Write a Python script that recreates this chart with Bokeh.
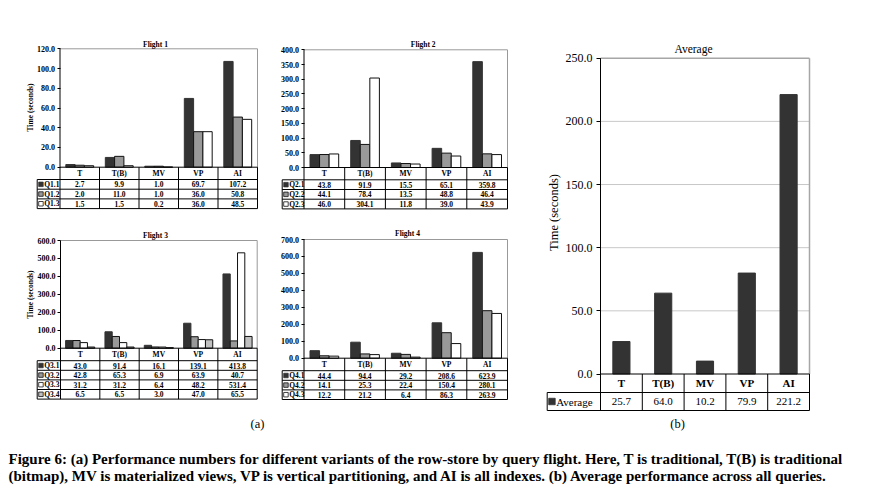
import math
from bokeh.plotting import figure
from bokeh.models import Range1d, LinearAxis, FixedTicker, NumeralTickFormatter
from bokeh.layouts import row, column
from bokeh.embed import file_html
from bokeh.resources import INLINE
from bokeh.core.properties import value

SERIF = "Liberation Serif"

# ---------------- data ----------------
categories = ["T", "T(B)", "MV", "VP", "AI"]

f1_names = ["Q1.1", "Q1.2", "Q1.3"]
f1_q11 = [2.7, 9.9, 1.0, 69.7, 107.2]
f1_q12 = [2.0, 11.0, 1.0, 36.0, 50.8]
f1_q13 = [1.5, 1.5, 0.2, 36.0, 48.5]
f1_ticks = [0, 20, 40, 60, 80, 100, 120]

f2_names = ["Q2.1", "Q2.2", "Q2.3"]
f2_q21 = [43.8, 91.9, 15.5, 65.1, 359.8]
f2_q22 = [44.1, 78.4, 13.5, 48.8, 46.4]
f2_q23 = [46.0, 304.1, 11.8, 39.0, 43.9]
f2_ticks = [0, 50, 100, 150, 200, 250, 300, 350, 400]

f3_names = ["Q3.1", "Q3.2", "Q3.3", "Q3.4"]
f3_q31 = [43.0, 91.4, 16.1, 139.1, 413.8]
f3_q32 = [42.8, 65.3, 6.9, 63.9, 40.7]
f3_q33 = [31.2, 31.2, 6.4, 48.2, 531.4]
f3_q34 = [6.5, 6.5, 3.0, 47.0, 65.5]
f3_ticks = [0, 100, 200, 300, 400, 500, 600]

f4_names = ["Q4.1", "Q4.2", "Q4.3"]
f4_q41 = [44.4, 94.4, 29.2, 208.6, 623.9]
f4_q42 = [14.1, 25.3, 22.4, 150.4, 280.1]
f4_q43 = [12.2, 21.2, 6.4, 86.3, 263.9]
f4_ticks = [0, 100, 200, 300, 400, 500, 600, 700]

avg_names = ["Average"]
avg_values = [25.7, 64.0, 10.2, 79.9, 221.2]
avg_ticks = [0, 50, 100, 150, 200, 250]

caption_lines = [
    "Figure 6: (a) Performance numbers for different variants of the row-store by query flight. Here, T is traditional, T(B) is traditional",
    "(bitmap), MV is materialized views, VP is vertical partitioning, and AI is all indexes. (b) Average performance across all queries.",
]

FILLS = ["#333333", "#999999", "#ffffff", "#c0c0c0"]
LINES = ["#333333", "#111111", "#111111", "#111111"]


def no_grid(p):
    p.grid.grid_line_color = None
    p.grid.visible = False


def make_panel(X0, Y0, W, H, xa, xb, py0, py1, ymax, ticks, names, series,
               bw, hh, rh, tl, title, tpos, ylab_pos, fs, tick_fs, title_fs,
               ylab_fs, bold, tick_out, standoff, sq, frame_color, frame_w,
               grid=False, extra=None):
    u = (xb - xa) / 5.0
    v = (py0 - py1) / ymax
    p = figure(width=W, height=H, output_backend="svg", toolbar_location=None,
               x_range=Range1d((X0 - xa) / u, (X0 + W - xa) / u),
               y_range=Range1d((py0 - (Y0 + H)) / v, (py0 - Y0) / v),
               x_axis_location=None, y_axis_location=None, min_border=0,
               title=None)
    no_grid(p)
    p.outline_line_color = None
    p.background_fill_color = "white"
    p.border_fill_color = "white"
    p.extra_x_ranges = {"px": Range1d(X0, X0 + W)}
    p.extra_y_ranges = {"px": Range1d(Y0 + H, Y0)}
    style = "bold" if bold else "normal"
    font = value(SERIF)
    PX = dict(x_range_name="px", y_range_name="px")

    ax = LinearAxis(fixed_location=0, ticker=FixedTicker(ticks=ticks),
                    formatter=NumeralTickFormatter(format="0.0"))
    ax.axis_line_color = None
    ax.major_tick_in = 0
    ax.major_tick_out = tick_out
    ax.major_tick_line_color = "black"
    ax.minor_tick_line_color = None
    ax.major_label_standoff = standoff
    ax.major_label_text_font = SERIF
    ax.major_label_text_font_size = tick_fs
    ax.major_label_text_font_style = style
    ax.major_label_text_color = "black"
    p.add_layout(ax, "left")

    # grid lines
    if grid:
        gl = ticks[1:-1]
        p.segment(x0=[0] * len(gl), y0=gl, x1=[5] * len(gl), y1=gl,
                  line_color="#c8c8c8", line_width=1)

    # plot frame (top & right)
    p.segment(x0=[0, 5], y0=[ymax, 0], x1=[5, 5], y1=[ymax, ymax],
              line_color=frame_color, line_width=frame_w)

    # bars
    n = len(series)
    for j, vals in enumerate(series):
        xs = [i + 0.5 + (j - (n - 1) / 2.0) * bw for i in range(len(categories))]
        p.vbar(x=xs, top=vals, bottom=0, width=bw, fill_color=FILLS[j],
               line_color=LINES[j], line_width=1)

    # table lines
    bottom = py0 + hh + n * rh
    cx = [xa + i * u for i in range(6)]
    hx0 = [xa, tl] + [tl] * n
    hy = [py0, py0 + hh] + [py0 + hh + (k + 1) * rh for k in range(n)]
    hx1 = [xb] * len(hx0)
    p.segment(x0=hx0, y0=hy, x1=hx1, y1=hy, line_color="black", line_width=1, **PX)
    vx = [tl, xa] + cx[1:]
    vy0 = [py0 + hh, py1] + [py0] * 5
    vy1 = [bottom] * len(vx)
    p.segment(x0=vx, y0=vy0, x1=vx, y1=vy1, line_color="black", line_width=1, **PX)

    # header
    centers = [xa + (i + 0.5) * u for i in range(5)]
    p.text(x=centers, y=[py0 + hh / 2.0] * 5, text=categories, text_font=font,
           text_font_size=fs, text_font_style="bold", text_align="center",
           text_baseline="middle", text_color="black", **PX)

    # rows
    for j, vals in enumerate(series):
        yc = py0 + hh + (j + 0.5) * rh
        p.rect(x=[tl + 1.5 + sq / 2.0], y=[yc], width=sq, height=sq,
               fill_color=FILLS[j], line_color=LINES[j], line_width=0.8, **PX)
        p.text(x=[tl + sq + 2.5], y=[yc], text=[names[j]], text_font=font,
               text_font_size=fs, text_font_style=style, text_align="left",
               text_baseline="middle", text_color="black", **PX)
        p.text(x=centers, y=[yc] * 5, text=["%.1f" % val for val in vals],
               text_font=font, text_font_size=fs, text_font_style=style,
               text_align="center", text_baseline="middle", text_color="black", **PX)

    # title
    p.text(x=[tpos[0]], y=[tpos[1]], text=[title], text_font=font,
           text_font_size=title_fs, text_font_style=style, text_align="center",
           text_baseline="middle", text_color="black", **PX)
    if ylab_pos is not None:
        p.text(x=[ylab_pos[0]], y=[ylab_pos[1]], text=["Time (seconds)"],
               text_font=font, text_font_size=ylab_fs, text_font_style=style,
               text_align="center", text_baseline="middle", angle=math.pi / 2,
               text_color="black", **PX)
    if extra is not None:
        p.text(x=[extra[0]], y=[extra[1]], text=[extra[2]], text_font=font,
               text_font_size="12.5px", text_align="center", text_baseline="middle",
               text_color="black", **PX)
    return p


common_small = dict(fs="7.5px", tick_fs="8px", title_fs="7.5px", ylab_fs="7.5px",
                    bold=True, tick_out=3, standoff=2, sq=4.5,
                    frame_color="#999999", frame_w=1)

f1 = make_panel(0, 0, 270, 218, 59.5, 257, 166.7, 48.3, 120, f1_ticks, f1_names,
                [f1_q11, f1_q12, f1_q13], 0.235, 12.3, 9.7, 36.7, "Flight 1",
                (155, 44), (30, 107), **common_small)
f2 = make_panel(270, 0, 255, 218, 303.5, 507, 167, 49.3, 400, f2_ticks, f2_names,
                [f2_q21, f2_q22, f2_q23], 0.235, 12.3, 9.7, 281.7, "Flight 2",
                (422.7, 44), None, **common_small)
f3 = make_panel(0, 218, 270, 222, 60, 256.7, 347.7, 240, 600, f3_ticks, f3_names,
                [f3_q31, f3_q32, f3_q33, f3_q34], 0.185, 12.5, 9.6, 36.7, "Flight 3",
                (155, 235), (30, 294), extra=(257, 423, "(a)"), **common_small)
f4 = make_panel(270, 218, 255, 222, 303.5, 507, 357.7, 239, 700, f4_ticks, f4_names,
                [f4_q41, f4_q42, f4_q43], 0.235, 12.5, 9.6, 281.7, "Flight 4",
                (407, 233), None, **common_small)
favg = make_panel(525, 0, 353, 440, 600, 809, 373.5, 57.7, 250, avg_ticks, avg_names,
                  [avg_values], 0.41, 18.5, 18, 546.7, "Average", (693, 48), (553, 212),
                  fs="11px", tick_fs="12px", title_fs="11.5px", ylab_fs="12.5px",
                  bold=False, tick_out=4, standoff=4, sq=6.5, frame_color="#a6a6a6",
                  frame_w=1.5, grid=True, extra=(677, 423, "(b)"))

cap = figure(width=878, height=50, output_backend="svg", toolbar_location=None,
             x_range=Range1d(0, 878), y_range=Range1d(490, 440),
             x_axis_location=None, y_axis_location=None, min_border=0, title=None)
no_grid(cap)
cap.outline_line_color = None
cap.text(x=[8, 8], y=[458, 475], text=caption_lines, text_font=value(SERIF),
         text_font_size="15px", text_font_style="bold", text_align="left",
         text_baseline="middle", text_color="black")

layout = column(row(column(row(f1, f2), row(f3, f4)), favg), cap)

with open("out.html", "w") as fh:
    fh.write(file_html(layout, INLINE))
